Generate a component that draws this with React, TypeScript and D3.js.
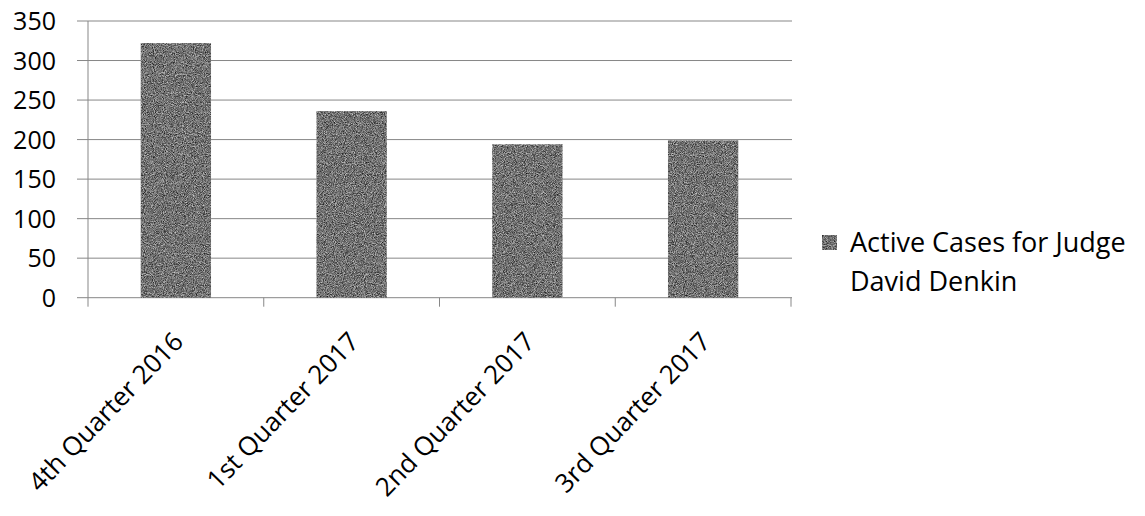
import React from "react";
import * as d3 from "d3";

const categories = ["4th Quarter 2016", "1st Quarter 2017", "2nd Quarter 2017", "3rd Quarter 2017"];
const activeCases = [322, 236, 194, 199];
const yTicks = [0, 50, 100, 150, 200, 250, 300, 350];
const seriesName = ["Active Cases for Judge", "David Denkin"];

const W = 1145;
const H = 516;
const FONT = "'Open Sans', 'Noto Sans', sans-serif";
const AXIS = "#878787";

export default function App() {
  const x = d3
    .scaleBand<string>()
    .domain(categories)
    .range([88, 791])
    .paddingInner(0.6)
    .paddingOuter(0.3);
  const y = d3.scaleLinear().domain([0, 350]).range([297.7, 21]);
  const step = x.step();
  const bounds = d3.range(categories.length + 1).map((i) => 88 + i * step);

  return (
    <svg
      width={W}
      height={H}
      style={{ position: "absolute", left: 0, top: 0, background: "#fff" }}
      fontFamily={FONT}
    >
      <defs>
        {/* stippled grey fill for the bars and legend key */}
        <filter
          id="grain"
          x="0"
          y="0"
          width="100%"
          height="100%"
          colorInterpolationFilters="sRGB"
        >
          <feTurbulence type="fractalNoise" baseFrequency="1.1" numOctaves="2" seed="5" result="n" />
          <feColorMatrix
            in="n"
            type="matrix"
            values="0.95 0 0 0 -0.03  0.95 0 0 0 -0.03  0.95 0 0 0 -0.03  0 0 0 0 1"
            result="g"
          />
          <feComposite in="g" in2="SourceGraphic" operator="in" />
        </filter>
      </defs>

      {/* horizontal gridlines with left tick marks */}
      {yTicks.map((t) => (
        <line key={t} x1={77} x2={792} y1={y(t)} y2={y(t)} stroke={AXIS} strokeWidth={1} />
      ))}
      {/* value axis */}
      <line x1={88} x2={88} y1={y(350)} y2={y(0)} stroke={AXIS} />
      {/* category tick marks */}
      {bounds.map((b, i) => (
        <line key={i} x1={b} x2={b} y1={y(0)} y2={y(0) + 9} stroke={AXIS} />
      ))}

      {/* bars */}
      {categories.map((c, i) => (
        <rect
          key={c}
          x={x(c)}
          y={y(activeCases[i])}
          width={x.bandwidth()}
          height={y(0) - y(activeCases[i])}
          fill="#6a6a6a"
          filter="url(#grain)"
        />
      ))}

      {/* y tick labels */}
      {yTicks.map((t) => (
        <text
          key={t}
          x={56}
          y={y(t)}
          dy="0.36em"
          textAnchor="end"
          fontSize={25}
          fill="#000"
        >
          {t}
        </text>
      ))}

      {/* rotated category labels */}
      {categories.map((c) => {
        const cx = (x(c) as number) + x.bandwidth() / 2 + 9;
        const cy = 343;
        return (
          <text
            key={c}
            transform={`translate(${cx},${cy}) rotate(-46)`}
            textAnchor="end"
            fontSize={26}
            fill="#000"
          >
            {c}
          </text>
        );
      })}

      {/* legend */}
      <rect x={822} y={235} width={15} height={15} fill="#6a6a6a" filter="url(#grain)" />
      {seriesName.map((s, i) => (
        <text key={s} x={850} y={252 + i * 39} fontSize={27} fill="#000">
          {s}
        </text>
      ))}
    </svg>
  );
}
